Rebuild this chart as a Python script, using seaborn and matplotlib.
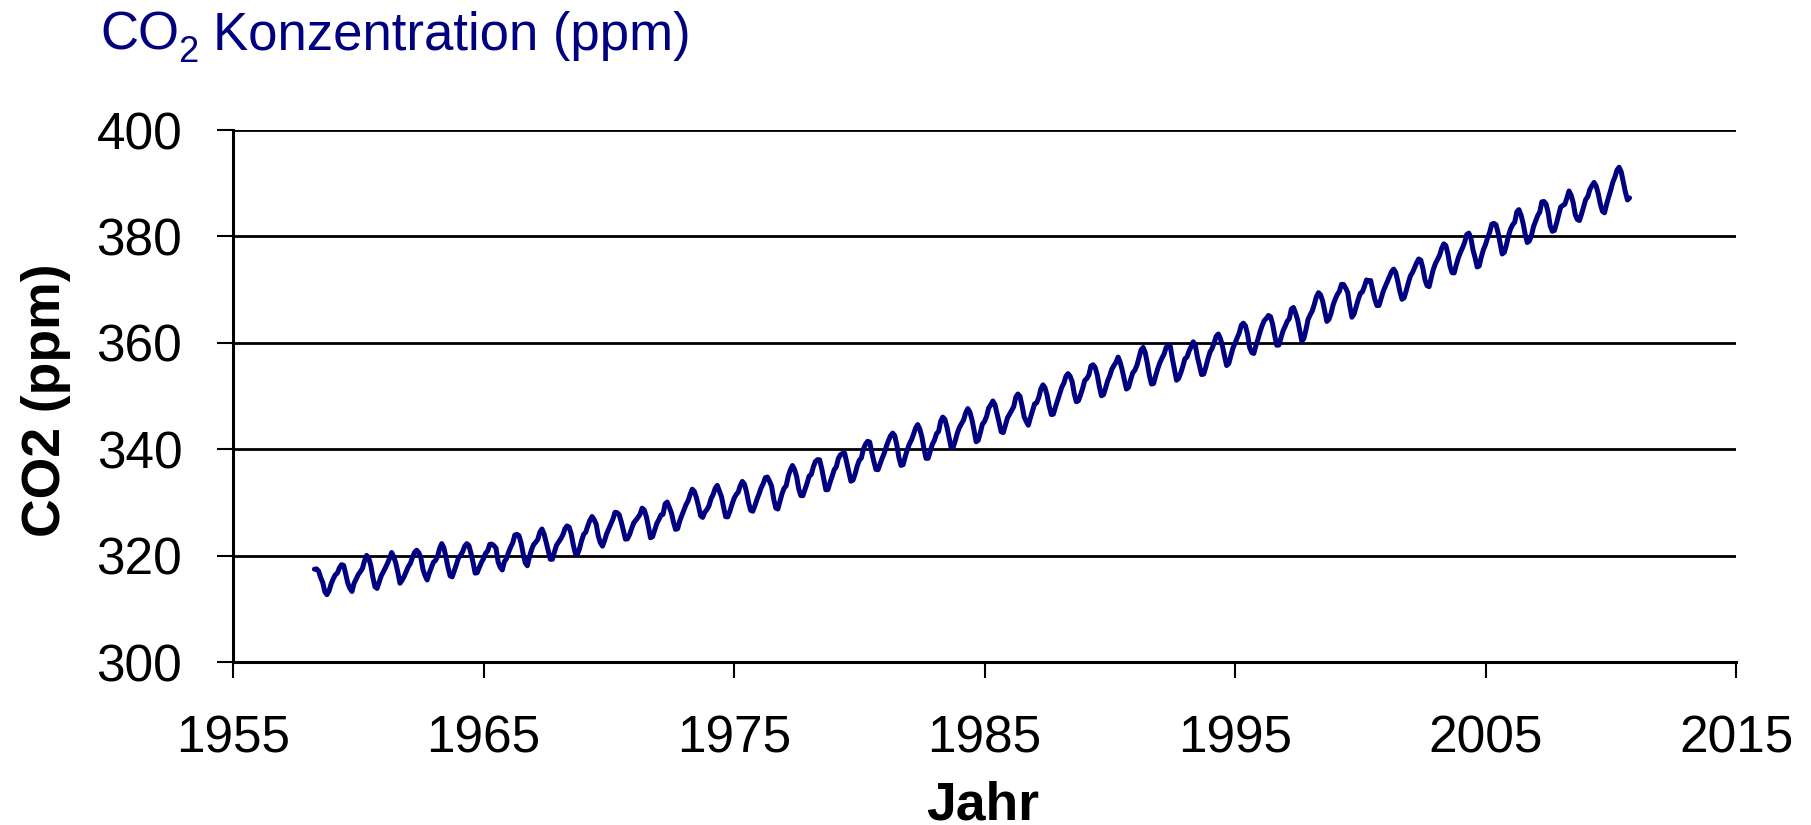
import numpy as np
import pandas as pd
import seaborn as sns
import matplotlib.pyplot as plt

# Mauna Loa monthly CO2 (ppm), April 1958 .. October 2010
co2_ppm = [
    317.45, 317.50, 317.10, 315.86, 314.93, 313.20, 312.66, 313.33, 314.67,  # 1958 (Apr-Dec)
    315.62, 316.38, 316.71, 317.72, 318.29, 318.15, 316.54, 314.80, 313.84, 313.26, 314.80, 315.58,  # 1959
    316.43, 316.97, 317.58, 319.02, 320.03, 319.59, 318.18, 315.91, 314.16, 313.83, 315.00, 316.19,  # 1960
    316.93, 317.70, 318.54, 319.48, 320.58, 319.77, 318.57, 316.79, 314.80, 315.38, 316.10, 317.01,  # 1961
    317.94, 318.56, 319.68, 320.63, 321.01, 320.55, 319.58, 317.40, 316.26, 315.42, 316.69, 317.69,  # 1962
    318.74, 319.08, 319.86, 321.39, 322.25, 321.47, 319.74, 317.77, 316.21, 315.99, 317.12, 318.31,  # 1963
    319.57, 320.07, 320.73, 321.77, 322.25, 321.89, 320.44, 318.70, 316.70, 316.79, 317.79, 318.71,  # 1964
    319.44, 320.44, 320.89, 322.13, 322.16, 321.87, 321.39, 318.81, 317.81, 317.30, 318.87, 319.42,  # 1965
    320.62, 321.59, 322.39, 323.87, 324.01, 323.75, 322.39, 320.37, 318.64, 318.10, 319.79, 321.08,  # 1966
    322.07, 322.50, 323.04, 324.42, 325.00, 324.09, 322.55, 320.92, 319.31, 319.31, 320.72, 321.96,  # 1967
    322.57, 323.15, 323.89, 325.02, 325.57, 325.36, 324.14, 322.03, 320.41, 320.25, 321.31, 322.84,  # 1968
    324.00, 324.42, 325.64, 326.66, 327.34, 326.76, 325.88, 323.67, 322.38, 321.78, 322.85, 324.11,  # 1969
    325.03, 325.99, 326.87, 328.13, 328.07, 327.66, 326.35, 324.69, 323.10, 323.16, 323.98, 325.13,  # 1970
    326.17, 326.68, 327.18, 327.78, 328.92, 328.57, 327.34, 325.46, 323.36, 323.57, 324.80, 326.01,  # 1971
    326.77, 327.63, 327.75, 329.72, 330.07, 329.09, 328.05, 326.32, 324.93, 325.06, 326.50, 327.55,  # 1972
    328.54, 329.56, 330.30, 331.50, 332.48, 332.07, 330.87, 329.31, 327.51, 327.18, 328.16, 328.64,  # 1973
    329.35, 330.71, 331.48, 332.65, 333.20, 332.16, 331.07, 329.12, 327.32, 327.28, 328.30, 329.58,  # 1974
    330.73, 331.46, 331.90, 333.17, 333.94, 333.45, 331.97, 329.95, 328.50, 328.34, 329.37, 330.58,  # 1975
    331.59, 332.75, 333.52, 334.64, 334.77, 334.00, 333.06, 330.68, 328.95, 328.75, 330.15, 331.62,  # 1976
    332.66, 333.13, 334.95, 336.13, 336.93, 336.17, 334.88, 332.56, 331.29, 331.27, 332.41, 333.60,  # 1977
    334.95, 335.25, 336.66, 337.69, 338.03, 338.01, 336.41, 334.41, 332.37, 332.41, 333.75, 334.90,  # 1978
    336.14, 336.69, 338.27, 338.95, 339.21, 339.26, 337.54, 335.75, 333.98, 334.19, 335.31, 336.81,  # 1979
    337.90, 338.34, 340.01, 340.93, 341.48, 341.33, 339.40, 337.70, 336.19, 336.15, 337.27, 338.32,  # 1980
    339.29, 340.55, 341.61, 342.53, 343.03, 342.54, 340.78, 338.44, 336.95, 337.08, 338.58, 339.88,  # 1981
    340.96, 341.73, 342.81, 343.97, 344.63, 343.79, 342.32, 340.09, 338.28, 338.29, 339.60, 340.90,  # 1982
    341.68, 342.90, 343.33, 345.25, 346.03, 345.63, 344.19, 342.27, 340.35, 340.38, 341.59, 343.05,  # 1983
    344.10, 344.79, 345.52, 346.84, 347.63, 346.98, 345.53, 343.55, 341.40, 341.67, 343.10, 344.70,  # 1984
    345.21, 346.16, 347.74, 348.34, 349.06, 348.38, 346.71, 345.02, 343.27, 343.13, 344.49, 345.88,  # 1985
    346.56, 347.28, 348.01, 349.77, 350.38, 349.93, 348.16, 346.08, 345.22, 344.51, 345.93, 347.22,  # 1986
    348.52, 348.73, 349.73, 351.31, 352.09, 351.53, 350.11, 348.08, 346.52, 346.59, 347.96, 349.16,  # 1987
    350.39, 351.64, 352.41, 353.69, 354.21, 353.72, 352.69, 350.40, 348.92, 349.13, 350.20, 351.41,  # 1988
    352.91, 353.27, 353.96, 355.64, 355.86, 355.37, 353.99, 351.81, 350.05, 350.25, 351.49, 352.85,  # 1989
    353.80, 355.04, 355.73, 356.32, 357.32, 356.34, 354.84, 353.01, 351.31, 351.62, 353.07, 354.33,  # 1990
    354.84, 355.73, 357.23, 358.66, 359.13, 358.13, 356.19, 353.85, 352.25, 352.35, 353.81, 355.12,  # 1991
    356.25, 357.11, 357.86, 359.09, 359.59, 359.33, 357.01, 354.94, 352.96, 353.32, 354.32, 355.57,  # 1992
    357.00, 357.31, 358.47, 359.27, 360.19, 359.52, 357.33, 355.64, 354.03, 354.12, 355.41, 356.91,  # 1993
    358.24, 358.92, 359.99, 361.23, 361.65, 360.81, 359.38, 357.46, 355.73, 356.08, 357.53, 358.98,  # 1994
    359.92, 360.86, 361.83, 363.30, 363.69, 363.19, 361.64, 359.12, 358.17, 357.99, 359.45, 360.68,  # 1995
    362.07, 363.24, 364.17, 364.57, 365.13, 364.92, 363.55, 361.38, 359.54, 359.58, 360.89, 362.24,  # 1996
    363.09, 364.03, 364.51, 366.35, 366.64, 365.59, 364.31, 362.25, 360.29, 360.82, 362.49, 364.38,  # 1997
    365.26, 365.98, 367.24, 368.66, 369.42, 368.99, 367.82, 365.95, 364.02, 364.40, 365.52, 367.13,  # 1998
    368.18, 369.07, 369.68, 370.99, 370.96, 370.30, 369.45, 366.90, 364.81, 365.37, 366.72, 368.10,  # 1999
    369.29, 369.55, 370.60, 371.82, 371.58, 371.70, 369.86, 368.13, 367.00, 367.03, 368.37, 369.67,  # 2000
    370.59, 371.51, 372.43, 373.37, 373.85, 373.21, 371.51, 369.61, 368.18, 368.45, 369.76, 371.24,  # 2001
    372.53, 373.20, 374.12, 375.02, 375.76, 375.52, 374.01, 371.85, 370.75, 370.55, 372.25, 373.79,  # 2002
    374.88, 375.64, 376.45, 377.73, 378.60, 378.28, 376.70, 374.38, 373.17, 373.14, 374.66, 375.99,  # 2003
    377.00, 377.87, 378.88, 380.35, 380.62, 379.69, 377.47, 376.01, 374.25, 374.46, 376.16, 377.51,  # 2004
    378.46, 379.73, 380.77, 382.29, 382.45, 382.21, 380.74, 378.74, 376.70, 377.00, 378.35, 380.11,  # 2005
    381.38, 382.19, 382.67, 384.61, 385.03, 384.05, 382.46, 380.41, 378.85, 379.13, 380.15, 381.82,  # 2006
    382.89, 383.90, 384.58, 386.50, 386.56, 386.10, 384.50, 381.99, 380.96, 381.12, 382.45, 383.95,  # 2007
    385.52, 385.82, 386.03, 387.21, 388.54, 387.76, 386.36, 384.09, 383.18, 382.99, 384.19, 385.56,  # 2008
    386.94, 387.48, 388.82, 389.55, 390.14, 389.48, 388.03, 386.11, 384.74, 384.43, 386.02, 387.42,  # 2009
    388.71, 390.20, 391.17, 392.46, 393.00, 392.15, 390.20, 388.35, 386.85, 387.24,  # 2010 (Jan-Oct)
]

x_ticks = [1955, 1965, 1975, 1985, 1995, 2005, 2015]
y_ticks = [300, 320, 340, 360, 380, 400]

months = pd.date_range('1958-04-01', periods=len(co2_ppm), freq='MS')
df = pd.DataFrame({'jahr': months.year + (months.month - 1) / 12.0, 'co2': co2_ppm})

navy = '#000080'

sns.set_style('white')
plt.rcParams['font.family'] = ['Liberation Sans', 'DejaVu Sans']
plt.rcParams['text.color'] = 'black'

W, H = 1811, 825
fig = plt.figure(figsize=(W / 100, H / 100), dpi=100)
ax = fig.add_axes([233 / W, 1 - 662 / H, 1503 / W, 532 / H])

sns.lineplot(data=df, x='jahr', y='co2', color=navy, linewidth=3.6, ax=ax)

ax.set_xlim(1955, 2015)
ax.set_ylim(300, 400)
ax.set_xticks(x_ticks)
ax.set_yticks(y_ticks)
ax.set_xlabel('')
ax.set_ylabel('')

# horizontal grid lines, black like the old excel chart
ax.grid(axis='y', color='black', linewidth=2.0)
ax.grid(axis='x', visible=False)
ax.set_axisbelow(True)

for s in ['top', 'right']:
    ax.spines[s].set_visible(False)
for s in ['left', 'bottom']:
    ax.spines[s].set_color('black')
    ax.spines[s].set_linewidth(2.2)

ax.tick_params(axis='both', direction='out', length=11.5, width=1.5, colors='black',
               labelsize=37)
ax.tick_params(axis='x', pad=26, bottom=True)
ax.tick_params(axis='y', pad=25, left=True)

# title, with a big low subscript like the original slide
fig.text(100 / W, 1 - 50 / H, 'CO', color=navy, fontsize=38, ha='left', va='baseline')
fig.text(178 / W, 1 - 62 / H, '2', color=navy, fontsize=26, ha='left', va='baseline')
fig.text(213 / W, 1 - 50 / H, 'Konzentration (ppm)', color=navy, fontsize=38,
         ha='left', va='baseline')

fig.text(46 / W, 1 - 400 / H, 'CO2 (ppm)', rotation=90, fontsize=38.5,
         fontweight='bold', color='black', ha='center', va='center')
fig.text(983 / W, 1 - 819 / H, 'Jahr', fontsize=38.5, fontweight='bold',
         color='black', ha='center', va='baseline')

fig.savefig('out.png', dpi=100)
